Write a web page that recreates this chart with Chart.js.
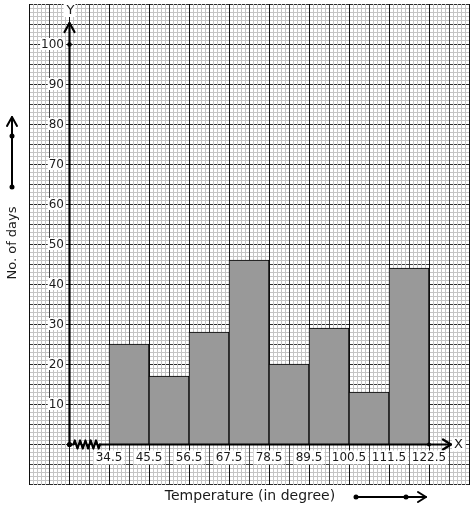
<!DOCTYPE html>
<html>
<head>
<meta charset="utf-8">
<script src="https://cdn.jsdelivr.net/npm/chart.js@4/dist/chart.umd.min.js"></script>
<style>
html,body{margin:0;padding:0;background:#fff;}
#c{display:block;}
</style>
</head>
<body>
<canvas id="c" width="474" height="510"></canvas>
<script>
// ---- data ----
const classLower = [34.5, 45.5, 56.5, 67.5, 78.5, 89.5, 100.5, 111.5];
const classUpper = [45.5, 56.5, 67.5, 78.5, 89.5, 100.5, 111.5, 122.5];
const days = [25, 17, 28, 46, 20, 29, 13, 44];
const xTickLabels = ["34.5", "45.5", "56.5", "67.5", "78.5", "89.5", "100.5", "111.5", "122.5"];
const xTickValues = [34.5, 45.5, 56.5, 67.5, 78.5, 89.5, 100.5, 111.5, 122.5];
const yTickValues = [10, 20, 30, 40, 50, 60, 70, 80, 90, 100];
const xTitle = "Temperature (in degree)";
const yTitle = "No. of days";

// graph-paper geometry in data units
const xOrigin = 23.5, xMin = 12.5, xMax = 133.5, xMinorStep = 1.1;
const yMin = -10, yMax = 110, yMinorStep = 1;

const points = days.map((d, i) => ({ x: (classLower[i] + classUpper[i]) / 2, y: d }));

const FONT = '"DejaVu Sans", sans-serif';

function dot(ctx, x, y, r) {
  ctx.beginPath(); ctx.arc(x, y, r, 0, Math.PI * 2); ctx.fill();
}

const paperPlugin = {
  id: 'paper',
  beforeDatasetsDraw(chart) {
    const ctx = chart.ctx, xs = chart.scales.x, ys = chart.scales.y, a = chart.chartArea;
    ctx.save();
    const nx = Math.round((xMax - xMin) / xMinorStep);
    const ny = Math.round((yMax - yMin) / yMinorStep);
    const xp = k => Math.round(xs.getPixelForValue(xMin + k * xMinorStep)) + 0.5;
    const yp = k => Math.round(ys.getPixelForValue(yMin + k * yMinorStep)) + 0.5;
    const L = a.left, R = a.right, T = a.top, B = a.bottom;
    ctx.lineWidth = 1;
    // minor horizontals
    ctx.strokeStyle = '#c4c4c4';
    for (let k = 0; k <= ny; k++) {
      if (k % 5 === 0) continue;
      ctx.beginPath(); ctx.moveTo(L, yp(k)); ctx.lineTo(R + 1, yp(k)); ctx.stroke();
    }
    // minor verticals
    for (let k = 0; k <= nx; k++) {
      if (k % 5 === 0) continue;
      ctx.beginPath(); ctx.moveTo(xp(k), T); ctx.lineTo(xp(k), B + 1); ctx.stroke();
    }
    // major horizontals (dashed)
    ctx.setLineDash([3, 1]);
    for (let k = 0; k <= ny; k += 5) {
      ctx.strokeStyle = (k % 10 === 0) ? '#2a2a2a' : '#3c3c3c';
      ctx.beginPath(); ctx.moveTo(L + 1, yp(k)); ctx.lineTo(R + 1, yp(k)); ctx.stroke();
    }
    ctx.setLineDash([]);
    // major verticals
    for (let k = 0; k <= nx; k += 5) {
      ctx.strokeStyle = (k % 10 === 0) ? '#111' : '#444';
      ctx.beginPath(); ctx.moveTo(xp(k), T); ctx.lineTo(xp(k), B + 1); ctx.stroke();
    }
    ctx.restore();
  },
  afterDatasetsDraw(chart) {
    const ctx = chart.ctx, xs = chart.scales.x, ys = chart.scales.y;
    ctx.save();
    const ox = Math.round(xs.getPixelForValue(xOrigin)) + 0.5;
    const oy = Math.round(ys.getPixelForValue(0)) + 0.5;
    const firstX = xs.getPixelForValue(xTickValues[0]);
    const lastX = xs.getPixelForValue(xTickValues[xTickValues.length - 1]);
    const topY = ys.getPixelForValue(yTickValues[yTickValues.length - 1]);
    ctx.strokeStyle = '#000'; ctx.fillStyle = '#000';
    ctx.lineCap = 'round'; ctx.lineJoin = 'round';

    // Y axis
    ctx.lineWidth = 2.2;
    const yTip = topY - 21;
    ctx.beginPath(); ctx.moveTo(ox, oy); ctx.lineTo(ox, yTip); ctx.stroke();
    ctx.beginPath(); ctx.moveTo(ox - 5, yTip + 9); ctx.lineTo(ox, yTip); ctx.lineTo(ox + 5, yTip + 9); ctx.stroke();

    // X axis with break (kink)
    const kinkStart = ox + 4, kinkEnd = firstX - 9;
    ctx.beginPath(); ctx.moveTo(ox, oy); ctx.lineTo(kinkStart, oy);
    const nZ = 5, w = (kinkEnd - kinkStart) / nZ;
    for (let i = 0; i < nZ; i++) {
      const x0 = kinkStart + i * w;
      ctx.lineTo(x0 + w * 0.25, oy - 4);
      ctx.lineTo(x0 + w * 0.75, oy + 4);
      ctx.lineTo(x0 + w, oy);
    }
    ctx.stroke();
    ctx.beginPath(); ctx.moveTo(kinkEnd, oy); ctx.lineTo(lastX + 22, oy); ctx.stroke();
    const xTip = lastX + 22;
    ctx.beginPath(); ctx.moveTo(xTip - 8, oy - 5); ctx.lineTo(xTip, oy); ctx.lineTo(xTip - 8, oy + 5); ctx.stroke();

    // dots
    dot(ctx, ox, oy, 2.6);
    dot(ctx, ox, topY + 0.5, 2.3);
    dot(ctx, lastX, oy, 2.0);

    // tick labels with white backdrop
    ctx.font = '12px ' + FONT;
    ctx.textBaseline = 'middle';
    ctx.textAlign = 'right';
    yTickValues.forEach(v => {
      const y = ys.getPixelForValue(v);
      const t = String(v);
      const tw = ctx.measureText(t).width;
      ctx.fillStyle = '#fff';
      ctx.fillRect(64 - tw - 1, y - 6, tw + 2, 12);
      ctx.fillStyle = '#1a1a1a';
      ctx.fillText(t, 64, y + 0.5);
    });
    ctx.textAlign = 'center';
    xTickValues.forEach((v, i) => {
      const x = xs.getPixelForValue(v);
      const t = xTickLabels[i];
      const tw = ctx.measureText(t).width;
      ctx.fillStyle = '#fff';
      ctx.fillRect(x - tw / 2 - 2, oy + 6, tw + 4, 14);
      ctx.fillStyle = '#1a1a1a';
      ctx.fillText(t, x, oy + 13.5);
    });

    // axis letters
    ctx.font = '13px ' + FONT;
    let tw = ctx.measureText('Y').width;
    ctx.fillStyle = '#fff'; ctx.fillRect(ox - tw / 2 - 2, 4, tw + 4, 13);
    ctx.fillStyle = '#1a1a1a'; ctx.fillText('Y', ox + 1, 11);
    tw = ctx.measureText('X').width;
    ctx.fillStyle = '#fff'; ctx.fillRect(xTip + 1, oy - 7, tw + 4, 14);
    ctx.fillStyle = '#1a1a1a'; ctx.fillText('X', xTip + 3 + tw / 2, oy);

    // titles
    ctx.fillStyle = '#1a1a1a';
    ctx.font = '14px ' + FONT;
    ctx.textAlign = 'center';
    ctx.fillText(xTitle, 250, 496);
    ctx.font = '13px ' + FONT;
    ctx.save();
    ctx.translate(13, 243); ctx.rotate(-Math.PI / 2);
    ctx.fillText(yTitle, 0, 0);
    ctx.restore();

    // decorative direction arrows
    ctx.fillStyle = '#000'; ctx.strokeStyle = '#000'; ctx.lineWidth = 2;
    ctx.beginPath(); ctx.moveTo(12, 187); ctx.lineTo(12, 117); ctx.stroke();
    ctx.beginPath(); ctx.moveTo(7, 126); ctx.lineTo(12, 117); ctx.lineTo(17, 126); ctx.stroke();
    dot(ctx, 12, 136, 2.5); dot(ctx, 12, 187, 2.5);
    ctx.beginPath(); ctx.moveTo(356, 497); ctx.lineTo(426, 497); ctx.stroke();
    ctx.beginPath(); ctx.moveTo(418, 492); ctx.lineTo(426, 497); ctx.lineTo(418, 502); ctx.stroke();
    dot(ctx, 356, 497, 2.5); dot(ctx, 406, 497, 2.5);
    ctx.restore();
  }
};

new Chart(document.getElementById('c'), {
  type: 'bar',
  data: {
    datasets: [{
      data: points,
      backgroundColor: '#999999',
      borderColor: '#000000',
      borderWidth: 1,
      barPercentage: 1,
      categoryPercentage: 1
    }]
  },
  options: {
    responsive: false,
    animation: false,
    events: [],
    layout: { padding: { left: 29, right: 5, top: 4, bottom: 26 } },
    plugins: { legend: { display: false }, tooltip: { enabled: false } },
    scales: {
      x: { type: 'linear', min: xMin, max: xMax, display: false, offset: false, grid: { offset: false } },
      y: { type: 'linear', min: yMin, max: yMax, display: false }
    }
  },
  plugins: [paperPlugin]
});
</script>
</body>
</html>
